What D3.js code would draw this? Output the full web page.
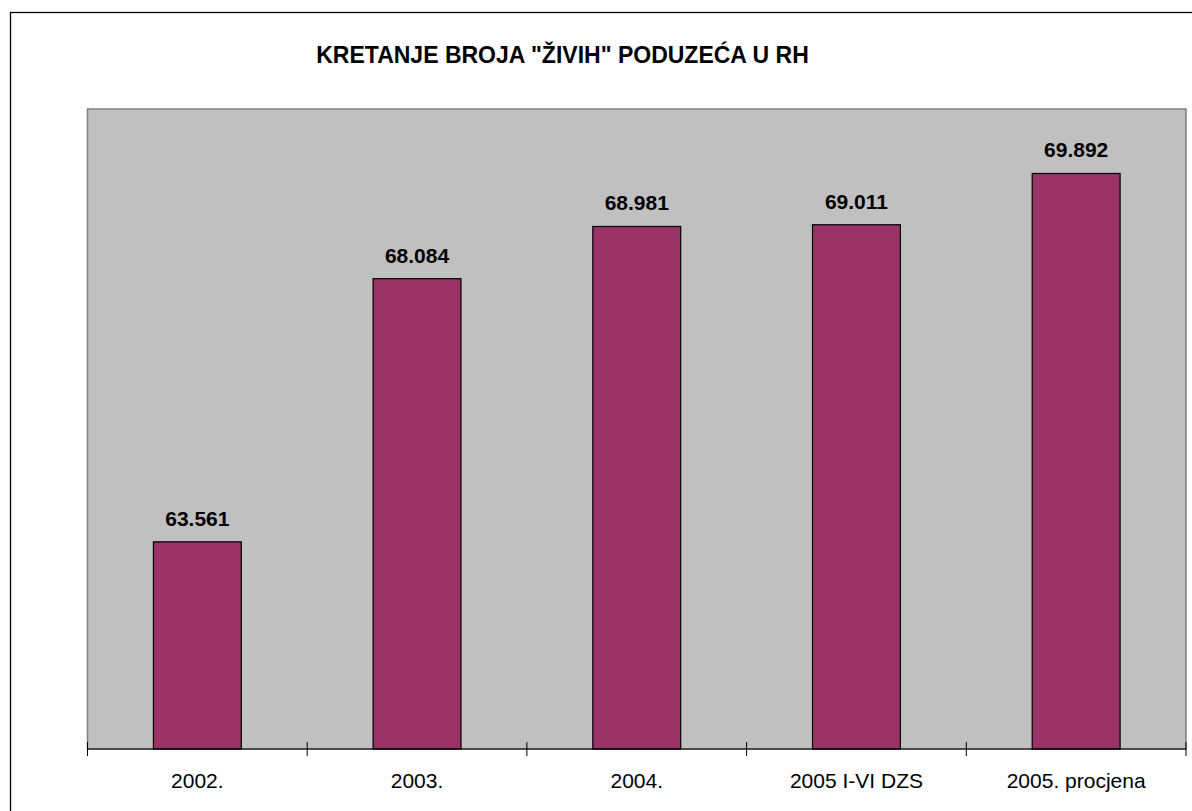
<!DOCTYPE html>
<html>
<head>
<meta charset="utf-8">
<script src="https://cdn.jsdelivr.net/npm/d3@7"></script>
<style>
  body { margin: 0; background: #fff; }
  svg { display: block; font-family: "Liberation Sans", Arial, sans-serif; }
</style>
</head>
<body>
<script>
// data
var categories = ["2002.", "2003.", "2004.", "2005 I-VI DZS", "2005. procjena"];
var values = [63561, 68084, 68981, 69011, 69892];
var yDomain = [60000, 71000];
var title = "KRETANJE BROJA \"ŽIVIH\" PODUZEĆA U RH";

var W = 1192, H = 811;
var margin = {top: 109, left: 87.5, right: 6, bottom: 62};
var width = W - margin.left - margin.right,
    height = H - margin.top - margin.bottom;

var hr = d3.formatLocale({decimal: ",", thousands: ".", grouping: [3], currency: ["", ""]});
var fmt = hr.format(",d");

var svg = d3.select("body").append("svg")
    .attr("width", W)
    .attr("height", H);

// outer chart border (runs off right/bottom like the original)
svg.append("rect")
    .attr("x", 10.5).attr("y", 12.5)
    .attr("width", 1200).attr("height", 830)
    .attr("fill", "#fff")
    .attr("stroke", "#000")
    .attr("stroke-width", 1.3);

svg.append("text")
    .attr("x", 562.5)
    .attr("y", 63)
    .attr("text-anchor", "middle")
    .style("font-size", "23px")
    .style("font-weight", "bold")
    .text(title);

var g = svg.append("g")
    .attr("transform", "translate(" + margin.left + "," + margin.top + ")");

var x = d3.scaleBand()
    .domain(categories)
    .range([0, width])
    .paddingInner(0.6)
    .paddingOuter(0.3);

var xAxisScale = d3.scaleBand().domain(categories).range([0, width]);

var y = d3.scaleLinear()
    .domain(yDomain)
    .range([height, 0]);

// plot area
g.append("rect")
    .attr("width", width)
    .attr("height", height)
    .attr("fill", "#c0c0c0")
    .attr("stroke", "#808080")
    .attr("stroke-width", 1.5);

g.selectAll(".bar")
    .data(values)
    .enter().append("rect")
    .attr("class", "bar")
    .attr("x", function(d, i) { return x(categories[i]); })
    .attr("width", x.bandwidth())
    .attr("y", function(d) { return y(d); })
    .attr("height", function(d) { return height - y(d); })
    .attr("fill", "#993366")
    .attr("stroke", "#000")
    .attr("stroke-width", 1.2);

g.selectAll(".val")
    .data(values)
    .enter().append("text")
    .attr("class", "val")
    .attr("x", function(d, i) { return x(categories[i]) + x.bandwidth() / 2; })
    .attr("y", function(d) { return y(d) - 16; })
    .attr("text-anchor", "middle")
    .style("font-size", "21px")
    .style("font-weight", "bold")
    .text(function(d) { return fmt(d); });

// category axis: ticks between categories, crossing the axis line
var ticks = categories.map(function(c) { return xAxisScale(c); }).concat([width]);

var ax = g.append("g")
    .attr("transform", "translate(0," + height + ")");

ax.append("line")
    .attr("x1", 0).attr("x2", width)
    .attr("stroke", "#000")
    .attr("stroke-width", 1.2);

ax.selectAll(".tick")
    .data(ticks)
    .enter().append("line")
    .attr("x1", function(d) { return d; })
    .attr("x2", function(d) { return d; })
    .attr("y1", -7).attr("y2", 7)
    .attr("stroke", "#000")
    .attr("stroke-width", 1);

ax.selectAll(".lbl")
    .data(categories)
    .enter().append("text")
    .attr("x", function(d) { return xAxisScale(d) + xAxisScale.bandwidth() / 2; })
    .attr("y", 39)
    .attr("text-anchor", "middle")
    .style("font-size", "21px")
    .text(function(d) { return d; });
</script>
</body>
</html>
